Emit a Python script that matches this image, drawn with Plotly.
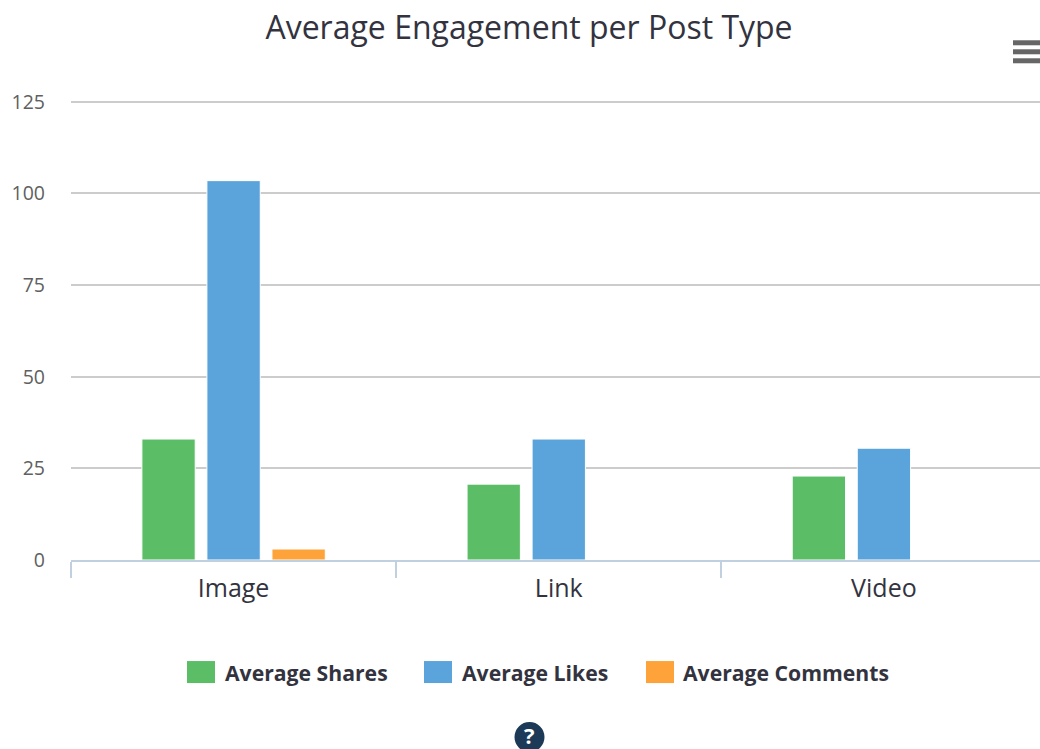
import plotly.graph_objects as go

categories = ["Image", "Link", "Video"]
average_shares = [33, 20.7, 22.9]
average_likes = [103.5, 33, 30.5]
average_comments = [3, 0, 0]
series_names = ["Average Shares", "Average Likes", "Average Comments"]
series_colors = ["#5CBD67", "#5BA3DB", "#FDA33A"]
y_ticks = [0, 25, 50, 75, 100, 125]

W, H = 1040, 749
FONT = "Open Sans"
TEXT = "#333340"
# plot area in page pixels
L, BOTTOM = 71, 560
PW = W - L
TOP = 100.2
PH = BOTTOM - TOP

fig = go.Figure()
for name, vals, col in zip(series_names, [average_shares, average_likes, average_comments], series_colors):
    fig.add_bar(name=name, x=categories, y=vals, marker=dict(color=col, line=dict(color="white", width=1)))

def dx(x):
    return (x - L) / PW
def dy(y):
    return (BOTTOM - y) / PH

shapes = []
annotations = []
# legend
for name, col, sx, tx in zip(series_names, series_colors, [187, 424, 646], [225, 462, 683]):
    shapes.append(dict(type="rect", xref="x domain", yref="y domain",
                       x0=dx(sx), x1=dx(sx + 28), y0=dy(683), y1=dy(661),
                       fillcolor=col, line=dict(width=0)))
    annotations.append(dict(xref="x domain", yref="y domain", x=dx(tx), y=dy(672),
                            text=f"<b>{name}</b>", showarrow=False, xanchor="left", yanchor="middle",
                            xshift=-2, font=dict(family=FONT, size=21.2, color=TEXT)))
# menu icon
for yy in [43, 52, 61]:
    shapes.append(dict(type="line", xref="x domain", yref="y domain",
                       x0=dx(1013), x1=dx(1040), y0=dy(yy), y1=dy(yy),
                       line=dict(color="#666666", width=5)))
# help icon
shapes.append(dict(type="circle", xref="x domain", yref="y domain",
                   x0=dx(514.5), x1=dx(544.5), y0=dy(752), y1=dy(722),
                   fillcolor="#1C3A57", line=dict(width=0)))
annotations.append(dict(xref="x domain", yref="y domain", x=dx(529.5), y=dy(735),
                        text="<b>?</b>", showarrow=False, xanchor="center", yanchor="middle",
                        font=dict(family=FONT, size=22, color="white")))

fig.update_layout(
    width=W, height=H, autosize=False,
    margin=dict(l=L, r=0, t=TOP, b=H - BOTTOM, autoexpand=False),
    paper_bgcolor="white", plot_bgcolor="white",
    barmode="group", bargap=0.4, bargroupgap=0.18,
    showlegend=False,
    title=dict(text="Average Engagement per Post Type", x=529 / W, xanchor="center",
               y=1 - 28 / H, yanchor="middle", font=dict(family=FONT, size=32, color=TEXT)),
    xaxis=dict(range=[-0.5, 2.48], tickson="boundaries", ticks="outside", ticklen=16, tickwidth=1.5,
               tickcolor="#C0D0E0", showline=True, linecolor="#C0D0E0", linewidth=2,
               showgrid=False, ticklabelstandoff=5, tickfont=dict(family=FONT, size=25, color=TEXT)),
    yaxis=dict(range=[0, 125.5], tickvals=y_ticks, showgrid=True, gridcolor="#CCCCCC", gridwidth=1.5,
               zeroline=False, ticks="", ticklabelstandoff=25,
               tickfont=dict(family=FONT, size=19.5, color="#606060")),
    shapes=shapes, annotations=annotations,
)
fig.write_html("out.html", config={"displayModeBar": False},
               post_script="document.body.style.margin='0';document.documentElement.style.overflow='hidden';")
